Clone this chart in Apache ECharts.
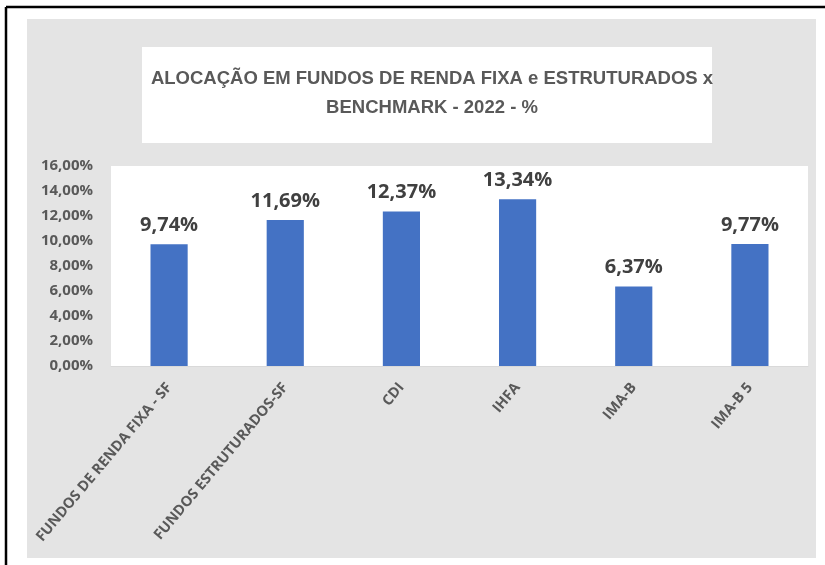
<!DOCTYPE html>
<html>
<head>
<meta charset="utf-8">
<script src="https://cdn.jsdelivr.net/npm/echarts@6/dist/echarts.min.js"></script>
<style>
  html, body { margin: 0; padding: 0; background: #ffffff; }
  #chart { width: 825px; height: 565px; }
</style>
</head>
<body>
<div id="chart"></div>
<script>
var categories = ['FUNDOS DE RENDA FIXA - SF', 'FUNDOS ESTRUTURADOS-SF', 'CDI', 'IHFA', 'IMA-B', 'IMA-B 5'];
var values = [9.74, 11.69, 12.37, 13.34, 6.37, 9.77];
var titleLines = ['ALOCAÇÃO EM FUNDOS DE RENDA FIXA e ESTRUTURADOS x', 'BENCHMARK - 2022 - %'];

function pct(v) {
    return v.toFixed(2).replace('.', ',') + '%';
}

var dom = document.getElementById('chart');
var myChart = echarts.init(dom, null, { renderer: 'canvas' });

var option = {
    animation: false,
    backgroundColor: '#ffffff',
    graphic: [
        // frame + grey chart area
        { type: 'rect', z: -10, shape: { x: 27, y: 19, width: 789, height: 539 }, style: { fill: '#e4e4e4' } },
        { type: 'line', z: -9, shape: { x1: 6, y1: 7, x2: 825, y2: 7 }, style: { stroke: '#000', lineWidth: 2.5 } },
        { type: 'line', z: -9, shape: { x1: 6, y1: 7, x2: 6, y2: 565 }, style: { stroke: '#000', lineWidth: 2.5 } },
        { type: 'rect', z: -8, shape: { x: 142, y: 47, width: 570, height: 96 }, style: { fill: '#ffffff' } }
    ],
    title: {
        text: titleLines.join('\n'),
        left: 427,
        top: 59,
        textAlign: 'center',
        textStyle: {
            fontFamily: 'Liberation Sans',
            fontWeight: 'bold',
            fontSize: 18.5,
            lineHeight: 29,
            color: '#595959'
        }
    },
    grid: {
        left: 111,
        right: 17,
        top: 166,
        bottom: 199,
        show: true,
        backgroundColor: '#ffffff',
        borderWidth: 0
    },
    xAxis: {
        type: 'category',
        data: categories,
        axisLine: { show: true, lineStyle: { color: '#d9d9d9', width: 1 } },
        axisTick: { show: false },
        axisLabel: {
            interval: 0,
            rotate: 50,
            margin: 19,
            fontFamily: 'Open Sans',
            fontWeight: 'bold',
            fontSize: 14.5,
            color: '#595959'
        }
    },
    yAxis: {
        type: 'value',
        min: 0,
        max: 16,
        interval: 2,
        splitLine: { show: false },
        axisLine: { show: false },
        axisTick: { show: false },
        axisLabel: {
            margin: 18,
            fontFamily: 'Open Sans',
            fontWeight: 'bold',
            fontSize: 15,
            color: '#595959',
            formatter: function (v) { return pct(v); }
        }
    },
    series: [{
        type: 'bar',
        data: values,
        barWidth: '32%',
        itemStyle: { color: '#4472c4' },
        label: {
            show: true,
            position: 'top',
            distance: 9,
            fontFamily: 'Open Sans',
            fontWeight: 'bold',
            fontSize: 20,
            color: '#404040',
            formatter: function (p) { return pct(p.value); }
        }
    }]
};

myChart.setOption(option);
</script>
</body>
</html>
